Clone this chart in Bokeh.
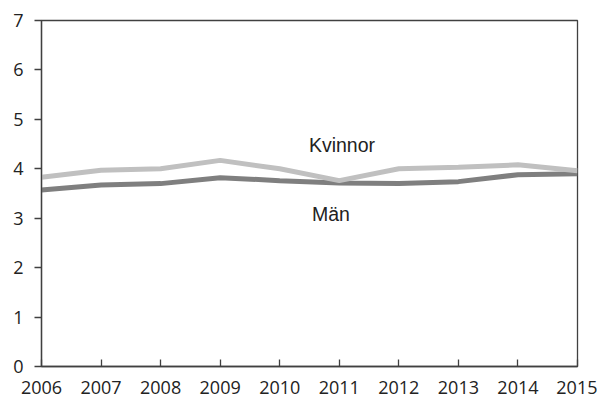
from bokeh.plotting import figure
from bokeh.models import FixedTicker, Range1d
from bokeh.core.properties import value
from bokeh.embed import file_html
from bokeh.resources import INLINE

# data
years = [2006, 2007, 2008, 2009, 2010, 2011, 2012, 2013, 2014, 2015]
kvinnor = [3.83, 3.97, 4.00, 4.17, 4.00, 3.76, 4.00, 4.03, 4.08, 3.96]
man = [3.57, 3.67, 3.70, 3.82, 3.76, 3.71, 3.70, 3.74, 3.88, 3.90]
y_ticks = [0, 1, 2, 3, 4, 5, 6, 7]

# series labels placed in the plot
label_text = ["Kvinnor", "Män"]
label_x = [2010.49, 2010.54]
label_y = [4.48, 3.08]

p = figure(width=597, height=400, output_backend="svg", toolbar_location=None,
           x_range=Range1d(2006, 2015), y_range=Range1d(0, 7),
           min_border_left=41, min_border_right=20, min_border_top=20, min_border_bottom=34)

p.background_fill_color = "white"
p.border_fill_color = "white"
p.outline_line_color = "#404040"
p.outline_line_width = 1.3
p.grid.visible = False

# lines
p.line(years, man, line_color="#7f7f7f", line_width=5)
p.line(years, kvinnor, line_color="#c0c0c0", line_width=5)

p.text(x=label_x, y=label_y, text=label_text, text_font=value("Liberation Sans"),
       text_font_size="19.5px", text_color="#222222", text_baseline="alphabetic")

# axes
p.xaxis.ticker = FixedTicker(ticks=years)
p.yaxis.ticker = FixedTicker(ticks=y_ticks)
for ax in (p.xaxis, p.yaxis):
    ax.axis_line_color = "#404040"
    ax.axis_line_width = 1.3
    ax.major_tick_line_color = "#404040"
    ax.major_tick_line_width = 1.3
    ax.minor_tick_line_color = None
    ax.major_label_text_font = "Open Sans"
    ax.major_label_text_font_size = "18px"
    ax.major_label_text_color = "#222222"

p.xaxis.major_tick_in = 7
p.xaxis.major_tick_out = 0
p.xaxis.major_label_standoff = 14
p.yaxis.major_tick_in = 0
p.yaxis.major_tick_out = 7
p.yaxis.major_label_standoff = 11

open("out.html", "w").write(file_html(p, INLINE))
